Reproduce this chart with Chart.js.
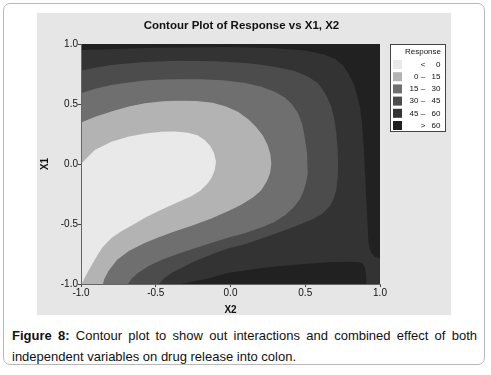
<!DOCTYPE html>
<html>
<head>
<meta charset="utf-8">
<title>Contour Plot of Response vs X1, X2</title>
<script src="https://cdn.jsdelivr.net/npm/chart.js@4.4.1/dist/chart.umd.min.js"></script>
<style>
  html, body { margin: 0; padding: 0; background: #fff; }
  body { width: 491px; height: 375px; position: relative; overflow: hidden; font-family: 'Liberation Sans', Arial, sans-serif; }
  .card { position: absolute; left: 3px; top: 3px; width: 480px; height: 360px; border: 1px solid #b8b8b8; border-radius: 7px; }
  .panel { position: absolute; left: 37px; top: 13px; width: 414px; height: 302px; background: #e6e6e6; }
  .caption { position: absolute; left: 12px; top: 325px; width: 465px; font-size: 13px; line-height: 21px; text-align: justify; color: #111; }
</style>
</head>
<body>
<div class="card"></div>
<div class="panel"><canvas id="contour" width="414" height="302"></canvas></div>
<div class="caption"><b>Figure 8:</b> Contour plot to show out interactions and combined effect of both independent variables on drug release into colon.</div>

<script>
// === DATA ===
const axisTicks = [-1, -0.5, 0, 0.5, 1];
const axisTickLabels = ['-1.0', '-0.5', '0.0', '0.5', '1.0'];
const levels = [0, 15, 30, 45, 60];
const bandColors = ['#e9e9e9', '#b3b3b3', '#6f6f6f', '#4c4c4c', '#333333', '#212121'];

// contour lines as [X2, X1]
const contour0 = [
  [-1.00, 0.00], [-0.908, 0.117], [-0.797, 0.186], [-0.686, 0.228], [-0.570, 0.255], [-0.463, 0.269],
  [-0.370, 0.270], [-0.284, 0.261], [-0.220, 0.240], [-0.173, 0.200], [-0.135, 0.150], [-0.110, 0.090],
  [-0.097, 0.020], [-0.105, -0.050], [-0.125, -0.110], [-0.150, -0.158], [-0.200, -0.220], [-0.262, -0.269],
  [-0.360, -0.322], [-0.463, -0.381], [-0.560, -0.440], [-0.652, -0.506], [-0.730, -0.560], [-0.797, -0.617],
  [-0.860, -0.700], [-0.908, -0.797], [-0.950, -0.890], [-0.980, -0.960], [-0.995, -1.00]
];
const contour15 = [
  [-1.00, 0.345], [-0.900, 0.395], [-0.797, 0.438], [-0.680, 0.480], [-0.574, 0.506], [-0.450, 0.523],
  [-0.351, 0.528], [-0.230, 0.525], [-0.120, 0.510], [-0.030, 0.480], [0.050, 0.435], [0.117, 0.375],
  [0.170, 0.310], [0.215, 0.240], [0.248, 0.160], [0.267, 0.080], [0.273, 0.000], [0.265, -0.075],
  [0.245, -0.140], [0.205, -0.220], [0.150, -0.280], [0.072, -0.340], [-0.010, -0.390], [-0.128, -0.455],
  [-0.250, -0.510], [-0.380, -0.565], [-0.480, -0.610], [-0.574, -0.658], [-0.680, -0.725], [-0.760, -0.800],
  [-0.815, -0.890], [-0.845, -0.960], [-0.853, -1.00]
];
const contour30 = [
  [-1.00, 0.589], [-0.900, 0.630], [-0.797, 0.658], [-0.680, 0.680], [-0.574, 0.695], [-0.450, 0.704],
  [-0.351, 0.707], [-0.200, 0.706], [-0.050, 0.698], [0.100, 0.675], [0.206, 0.644], [0.300, 0.600],
  [0.362, 0.555], [0.410, 0.500], [0.452, 0.422], [0.480, 0.330], [0.498, 0.210], [0.512, 0.090],
  [0.518, 0.000], [0.515, -0.080], [0.505, -0.158], [0.488, -0.230], [0.462, -0.297], [0.420, -0.365],
  [0.362, -0.430], [0.290, -0.485], [0.206, -0.530], [0.100, -0.575], [-0.017, -0.615], [-0.120, -0.655],
  [-0.239, -0.702], [-0.350, -0.748], [-0.463, -0.800], [-0.550, -0.852], [-0.619, -0.908], [-0.660, -0.955],
  [-0.686, -1.00]
];
const contour45 = [
  [-1.00, 0.778], [-0.900, 0.805], [-0.797, 0.825], [-0.574, 0.850], [-0.351, 0.861], [-0.100, 0.857],
  [0.100, 0.842], [0.206, 0.827], [0.320, 0.805], [0.430, 0.775], [0.520, 0.728], [0.585, 0.672],
  [0.635, 0.585], [0.674, 0.480], [0.695, 0.370], [0.708, 0.256], [0.716, 0.120], [0.720, 0.000],
  [0.717, -0.110], [0.708, -0.214], [0.690, -0.290], [0.664, -0.353], [0.610, -0.418], [0.541, -0.464],
  [0.430, -0.520], [0.318, -0.573], [0.200, -0.625], [0.095, -0.668], [-0.017, -0.705], [-0.120, -0.750],
  [-0.239, -0.811], [-0.320, -0.860], [-0.396, -0.908], [-0.445, -0.955], [-0.478, -1.00]
];
// 60 level: ridge along top and right, then the pocket at the bottom
const contour60 = [
  [-1.00, 0.950], [-0.500, 0.968], [0.000, 0.975], [0.300, 0.965], [0.500, 0.945], [0.620, 0.915],
  [0.700, 0.875], [0.750, 0.825], [0.790, 0.750], [0.821, 0.672], [0.845, 0.580], [0.866, 0.478],
  [0.880, 0.330], [0.888, 0.200], [0.895, 0.050], [0.900, -0.078], [0.911, -0.356], [0.922, -0.633],
  [0.930, -0.700], [0.944, -0.744], [0.965, -0.772], [1.00, -0.786]
];
const contour60Bottom = [
  [0.911, -1.00], [0.908, -0.930], [0.900, -0.865], [0.885, -0.832], [0.860, -0.818], [0.800, -0.814],
  [0.652, -0.819], [0.430, -0.839], [0.206, -0.867], [-0.017, -0.908], [-0.150, -0.955], [-0.239, -0.978],
  [-0.330, -1.00]
];

const FONT = "'Liberation Sans', Arial, sans-serif";

// === REGIONS (below each level) ===
const lo = axisTicks[0], hi = axisTicks[axisTicks.length - 1];
const regions = [
  [...contour0, [lo, lo]],
  [...contour15, [lo, lo]],
  [...contour30, [lo, lo]],
  [...contour45, [lo, lo]],
  [...contour60, [hi, lo], ...contour60Bottom, [lo, lo]],
  [[lo, lo], [lo, hi], [hi, hi], [hi, lo]]
];

const datasets = regions.map((pts, i) => ({
  data: pts.map(p => ({ x: p[0], y: p[1] })),
  showLine: true,
  fill: 'shape',
  backgroundColor: bandColors[i],
  borderWidth: 0,
  pointRadius: 0,
  pointHoverRadius: 0
}));

// === LEGEND ===
const responseLegend = {
  id: 'responseLegend',
  afterDraw(chart) {
    const { ctx, chartArea } = chart;
    const x0 = chartArea.right + 10, y0 = chartArea.top;
    const w = 56, h = 88;
    ctx.save();
    ctx.fillStyle = '#fff';
    ctx.fillRect(x0, y0, w, h);
    ctx.strokeStyle = '#444';
    ctx.lineWidth = 1;
    ctx.strokeRect(x0 + 0.5, y0 + 0.5, w - 1, h - 1);
    ctx.font = '8px ' + FONT;
    ctx.fillStyle = '#111';
    ctx.textBaseline = 'middle';
    ctx.textAlign = 'right';
    ctx.fillText('Response', x0 + 51, y0 + 8);
    const last = bandColors.length - 1;
    bandColors.forEach((c, i) => {
      const cy = y0 + 20.5 + i * 12.2;
      ctx.fillStyle = c;
      ctx.fillRect(x0 + 3, cy - 4.5, 9, 9);
      ctx.fillStyle = '#111';
      const left = (i === 0 || i === last) ? '' : String(levels[i - 1]);
      const sym = i === 0 ? '<' : (i === last ? '>' : '–');
      const right = String(levels[Math.min(i, levels.length - 1)]);
      ctx.textAlign = 'right';
      ctx.fillText(left, x0 + 28.5, cy);
      ctx.textAlign = 'center';
      ctx.fillText(sym, x0 + 33, cy);
      ctx.textAlign = 'right';
      ctx.fillText(right, x0 + 50.5, cy);
    });
    ctx.restore();
  }
};

// === CHART ===
Chart.defaults.font.family = FONT;
Chart.defaults.color = '#111';

function axis(title, isY) {
  return {
    type: 'linear',
    min: lo,
    max: hi,
    afterBuildTicks: s => { s.ticks = axisTicks.map(v => ({ value: v })); },
    afterFit: s => { if (isY) s.width = 44; else s.height = 31; },
    ticks: {
      callback: (v, i) => axisTickLabels[i],
      font: { size: 10 },
      color: '#111',
      padding: 0,
      maxRotation: 0,
      autoSkip: false
    },
    grid: { drawOnChartArea: false, tickLength: 3, tickColor: '#444' },
    border: { color: '#666', z: 1 },
    title: {
      display: true,
      text: title,
      font: { size: 10, weight: 'bold', lineHeight: 1 },
      color: '#111',
      padding: isY ? { top: 3, bottom: 0 } : { top: 0, bottom: 0 }
    }
  };
}

const xScale = axis('X2', false);
const yScale = axis('X1', true);
// empty right-hand axis that keeps room for the legend box
const legendSpace = {
  type: 'linear',
  position: 'right',
  display: true,
  afterFit: s => { s.width = 66; },
  ticks: { display: false },
  grid: { display: false },
  border: { display: false }
};

new Chart(document.getElementById('contour'), {
  type: 'scatter',
  data: { datasets },
  options: {
    responsive: false,
    animation: false,
    events: [],
    layout: { padding: { left: 0, right: 5, top: 0, bottom: 0 } },
    plugins: {
      legend: { display: false },
      tooltip: { enabled: false },
      title: {
        display: true,
        text: 'Contour Plot of Response vs X1, X2',
        font: { size: 11.5, weight: 'bold', lineHeight: 1.2 },
        color: '#111',
        padding: { top: 5.5, bottom: 11.7 }
      }
    },
    scales: {
      x: xScale,
      y: yScale,
      legendSpace
    }
  },
  plugins: [responseLegend]
});
</script>
</body>
</html>
